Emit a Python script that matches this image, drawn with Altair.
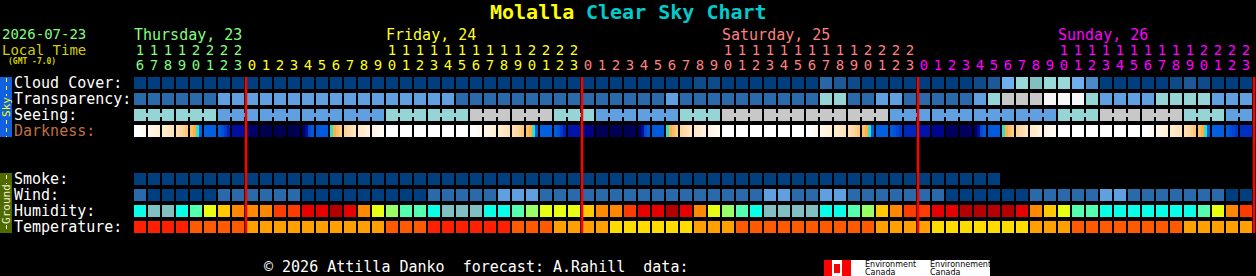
import altair as alt
import pandas as pd

# ---------------- values ----------------
title_place = "Molalla"
title_rest = "Clear Sky Chart"
date_text = "2026-07-23"
local_time_text = "Local Time"
gmt_text = "(GMT -7.0)"
footer_text = "© 2026 Attilla Danko\u00a0\u00a0forecast: A.Rahill\u00a0\u00a0data:"

day_labels = ["Thursday, 23", "Friday, 24", "Saturday, 25", "Sunday, 26"]
day_label_col = [0, 18, 42, 66]
hours = [16, 17, 18, 19, 20, 21, 22, 23] + list(range(24)) * 3

row_labels = ["Cloud Cover:", "Transparency:", "Seeing:", "Darkness:",
              "Smoke:", "Wind:", "Humidity:", "Temperature:"]

# cloud cover, percent
cloud_cover = [
    0, 0, 0, 0, 0, 0, 0, 0,
    0, 0, 0, 0, 0, 0, 0, 0, 0, 0, 0, 0, 0, 0, 0, 0, 0, 0, 0, 0, 0, 0, 0, 0,
    0, 0, 0, 0, 0, 0, 0, 0, 10, 10, 0, 0, 0, 0, 0, 0, 0, 30, 20, 10, 0, 0, 0, 0,
    0, 0, 0, 0, 10, 20, 60, 70, 80, 70, 70, 60, 40, 0, 0, 0, 0, 0, 10, 20, 10, 0, 0, 0,
]
# transparency: 5 above average, 4 average, 3 below average, 2 poor, 0 too cloudy
transparency = [
    5, 5, 5, 5, 5, 5, 4, 4,
    4, 4, 4, 4, 4, 4, 4, 4, 4, 4, 4, 4, 4, 4, 4, 5, 5, 5, 5, 5, 5, 5, 5, 5,
    5, 5, 5, 5, 5, 5, 4, 5, 5, 5, 5, 5, 5, 5, 5, 5, 5, 3, 3, 5, 5, 4, 4, 5,
    5, 5, 5, 5, 4, 3, 2, 2, 2, 0, 0, 0, 3, 4, 4, 4, 4, 3, 3, 3, 3, 4, 4, 4,
]
# seeing per 3-hour block: 3 average, 2 poor, 1 bad
seeing_blocks = [2, 2, 3, 3, 3, 3, 2, 2, 1, 1, 2, 3, 3, 2, 1, 1, 1, 1, 3, 3, 3, 3, 2, 1, 1, 2, 3]
# darkness (limiting magnitude, -4 = daylight), four quarter-hours per hour
darkness = [
    [-4.0, -4.0, -3.7, -3.4], [-3.3, -3.1, -2.9, -2.7], [-2.5, -2.3, -2.1, -1.9], [-1.7, -1.4, -1.1, -0.8],
    [-0.6, -0.3, 0.4, 1.0], [1.0, 1.0, 1.0, 1.0], [1.1, 1.6, 2.2, 2.8], [3.4, 3.4, 3.4, 3.4],
    [4.8, 4.8, 4.8, 4.8], [5.5, 5.5, 5.5, 5.5], [5.5, 5.5, 5.5, 5.5], [5.5, 5.5, 5.5, 5.5],
    [5.0, 3.5, 1.8, 1.2], [1.2, 1.2, 1.2, 1.2], [0.4, -0.3, -0.6, -0.9], [-1.2, -1.5, -1.8, -2.1],
    [-2.3, -2.5, -2.7, -2.9], [-3.1, -3.3, -3.5, -3.7], [-4, -4, -4, -4], [-4, -4, -4, -4],
    [-4, -4, -4, -4], [-4, -4, -4, -4], [-4, -4, -4, -4], [-4, -4, -4, -4],
    [-4.0, -4.0, -3.7, -3.4], [-3.3, -3.1, -2.9, -2.7], [-2.5, -2.3, -2.1, -1.9], [-1.7, -1.4, -1.1, -0.8],
    [-0.6, -0.3, 0.4, 1.0], [1.0, 1.0, 1.0, 1.0], [1.1, 1.6, 2.2, 2.8], [3.2, 3.2, 3.2, 3.2],
    [4.0, 4.0, 4.0, 4.0], [5.3, 5.3, 5.3, 5.3], [5.3, 5.3, 5.3, 5.3], [5.3, 5.3, 5.3, 5.3],
    [5.0, 3.5, 1.8, 1.2], [1.2, 1.2, 1.2, 1.2], [0.4, -0.3, -0.6, -0.9], [-1.2, -1.5, -1.8, -2.1],
    [-2.3, -2.5, -2.7, -2.9], [-3.1, -3.3, -3.5, -3.7], [-4, -4, -4, -4], [-4, -4, -4, -4],
    [-4, -4, -4, -4], [-4, -4, -4, -4], [-4, -4, -4, -4], [-4, -4, -4, -4],
    [-4.0, -4.0, -3.7, -3.4], [-3.3, -3.1, -2.9, -2.7], [-2.5, -2.3, -2.1, -1.9], [-1.7, -1.4, -1.1, -0.8],
    [-0.6, -0.3, 0.4, 1.0], [1.0, 1.0, 1.0, 1.0], [1.2, 1.5, 1.9, 2.3], [2.7, 2.7, 2.7, 2.7],
    [3.2, 3.2, 3.2, 3.2], [3.8, 3.8, 3.8, 3.8], [5.0, 5.0, 5.0, 5.0], [5.0, 5.0, 5.0, 5.0],
    [5.0, 3.5, 1.8, 1.2], [1.2, 1.2, 1.2, 1.2], [0.4, -0.3, -0.6, -0.9], [-1.2, -1.5, -1.8, -2.1],
    [-2.3, -2.5, -2.7, -2.9], [-3.1, -3.3, -3.5, -3.7], [-4, -4, -4, -4], [-4, -4, -4, -4],
    [-4, -4, -4, -4], [-4, -4, -4, -4], [-4, -4, -4, -4], [-4, -4, -4, -4],
    [-4.0, -4.0, -3.7, -3.4], [-3.3, -3.1, -2.9, -2.7], [-2.5, -2.3, -2.1, -1.9], [-1.7, -1.4, -1.1, -0.8],
    [-0.6, -0.3, 0.4, 1.0], [1.0, 1.0, 1.0, 1.0], [1.2, 1.6, 2.0, 2.3], [2.5, 2.5, 2.5, 2.5],
]
# smoke: 0 = no smoke (forecast ends after 62 hours)
smoke = [
    0, 0, 0, 0, 0, 0, 0, 0,
    0, 0, 0, 0, 0, 0, 0, 0, 0, 0, 0, 0, 0, 0, 0, 0, 0, 0, 0, 0, 0, 0, 0, 0,
    0, 0, 0, 0, 0, 0, 0, 0, 0, 0, 0, 0, 0, 0, 0, 0, 0, 0, 0, 0, 0, 0, 0, 0,
    0, 0, 0, 0, 0, 0,
]
# wind: 0 = 0-5 mph, 1 = 6-11 mph, 2 = 12-16 mph
wind = [
    1, 0, 0, 0, 0, 0, 1, 1,
    1, 1, 1, 1, 0, 0, 0, 0, 0, 0, 0, 0, 0, 1, 1, 1, 1, 1, 2, 2, 2, 1, 1, 1,
    1, 1, 1, 1, 1, 1, 1, 1, 1, 1, 1, 1, 1, 2, 2, 1, 1, 2, 2, 1, 1, 1, 1, 1,
    1, 1, 0, 0, 0, 0, 0, 0, 1, 1, 1, 1, 1, 2, 2, 1, 1, 1, 1, 1, 1, 1, 0, 0,
]
# relative humidity, percent
humidity = [
    47, 42, 42, 47, 52, 62, 67, 72,
    72, 72, 77, 77, 82, 82, 87, 82, 72, 62, 57, 52, 52, 47, 42, 42, 42, 47, 47, 52, 57, 62, 62, 62,
    67, 72, 72, 77, 82, 82, 87, 82, 72, 62, 57, 52, 47, 42, 42, 42, 42, 47, 47, 52, 57, 67, 72, 77,
    77, 82, 82, 87, 87, 87, 87, 82, 72, 67, 62, 52, 52, 47, 47, 47, 47, 47, 47, 47, 52, 62, 72, 77,
]
# temperature, deg F
temperature = [
    82, 82, 82, 82, 75, 75, 75, 75,
    68, 68, 68, 68, 68, 68, 68, 68, 68, 68, 75, 75, 75, 82, 82, 82, 82, 82, 82, 75, 75, 75, 68, 68,
    68, 68, 61, 61, 61, 61, 61, 61, 68, 68, 68, 75, 75, 75, 75, 75, 75, 75, 75, 75, 75, 68, 68, 68,
    68, 61, 61, 61, 61, 61, 61, 61, 68, 68, 68, 75, 75, 75, 75, 75, 75, 75, 75, 68, 68, 68, 68, 68,
]

# ---------------- styling ----------------
MONO = "DejaVu Sans Mono"
N = len(hours)
CELL = 12 / 14          # cell width in column units (12 px of a 14 px pitch)
CELL_H = 0.75           # cell height in row units (12 px of a 16 px pitch)
slot = {"Cloud Cover:": 0, "Transparency:": 1, "Seeing:": 2, "Darkness:": 3,
        "Smoke:": 6, "Wind:": 7, "Humidity:": 8, "Temperature:": 9}
label_colors = {"Darkness:": "#c07040"}
day_colors = ["#80ff80", "#ffff20", "#ff8080", "#ff00ff"]

palettes = {
    "cloud": {0: "#003f7f", 10: "#0d4b8b", 20: "#1d5898", 30: "#2a65a5", 40: "#4a8ac8",
              60: "#6fb0f0", 70: "#99d9d9", 80: "#80c0c0"},
    "transp": {0: "#f6f6f6", 2: "#c8c8c8", 3: "#95d5d5", 4: "#60a0e0", 5: "#2a6aaa"},
    "seeing": {1: "#c8c8c8", 2: "#95d5d5", 3: "#60a0e0"},
    "smoke": {0: "#013f7e"},
    "wind": {0: "#003f7f", 1: "#2a6aaa", 2: "#60a0e0"},
    "humid": {42: "#80c0c0", 47: "#08ffe8", 52: "#55ffb0", 57: "#99ff66", 62: "#e8ff14",
              67: "#ffc800", 72: "#ff8800", 77: "#ff3c00", 82: "#e60000", 87: "#b40000"},
    "temp": {61: "#ffdc00", 68: "#ffa000", 75: "#ff5a00", 82: "#ff2000"},
}
dark_domain = [-4, -3, -2, -1, -0.3, 0.4, 1.0, 2.0, 3.0, 4.0, 5.0, 5.5]
dark_range = ["#ffffff", "#fff3e0", "#ffe4bc", "#ffd090", "#ffb044", "#30e0c8",
              "#0060e0", "#0044d0", "#0018b4", "#000088", "#000060", "#000050"]

XS = alt.Scale(domain=[-134 / 14, 1122 / 14], range=[0, 1256], nice=False, zero=False)
YS = alt.Scale(domain=[-77 / 16, 199 / 16], reverse=True, nice=False, zero=False)


def X(f):
    return alt.X(f, type="quantitative", scale=XS, axis=None)


def X2(f):
    return alt.X2(f)


def Y(f):
    return alt.Y(f, type="quantitative", scale=YS, axis=None)


# ---------------- cell table ----------------
recs = []


def add_row(row, values, pal):
    for i, v in enumerate(values):
        recs.append(dict(x=i, x2=i + CELL, y=slot[row], y2=slot[row] + CELL_H, key=f"{pal}:{v}"))


add_row("Cloud Cover:", cloud_cover, "cloud")
add_row("Transparency:", transparency, "transp")
add_row("Smoke:", smoke, "smoke")
add_row("Wind:", wind, "wind")
add_row("Humidity:", humidity, "humid")
add_row("Temperature:", temperature, "temp")
s = slot["Seeing:"]
for b, v in enumerate(seeing_blocks):
    first, last = 3 * b, min(3 * b + 3, N) - 1
    for i in range(first, last + 1):
        recs.append(dict(x=i, x2=i + CELL, y=s, y2=s + CELL_H, key=f"seeing:{v}"))
    recs.append(dict(x=first, x2=last + CELL, y=s + 0.25, y2=s + 0.5, key=f"seeing:{v}"))
cells = pd.DataFrame(recs)

keys, colors = [], []
for pal, mp in palettes.items():
    for k, c in mp.items():
        keys.append(f"{pal}:{k}")
        colors.append(c)

cell_layer = alt.Chart(cells).mark_rect().encode(
    x=X("x"), x2=X2("x2"), y=Y("y"), y2=alt.Y2("y2"),
    color=alt.Color("key:N", scale=alt.Scale(domain=keys, range=colors), legend=None),
)

drecs = []
d = slot["Darkness:"]
for i, qs in enumerate(darkness):
    for q, m in enumerate(qs):
        drecs.append(dict(x=i + q * CELL / 4, x2=i + (q + 1) * CELL / 4, y=d, y2=d + CELL_H, mag=m))
dark_layer = alt.Chart(pd.DataFrame(drecs)).mark_rect().encode(
    x=X("x"), x2=X2("x2"), y=Y("y"), y2=alt.Y2("y2"),
    color=alt.Color("mag:Q", scale=alt.Scale(domain=dark_domain, range=dark_range, interpolate="rgb"),
                    legend=None),
)

# day boundaries (midnight) + end of forecast
bounds = [i for i, h in enumerate(hours) if h == 0 and i > 0] + [N]
rule_layer = alt.Chart(pd.DataFrame({"x": bounds, "y": [0] * len(bounds), "y2": [9.75] * len(bounds)})).mark_rule(
    color="#ff0000", strokeWidth=2.5).encode(x=X("x"), y=Y("y"), y2=alt.Y2("y2"))

# ---------------- texts ----------------
day_idx, dd = [], 0
for i, h in enumerate(hours):
    if i > 0 and h == 0:
        dd += 1
    day_idx.append(dd)
hdr = pd.DataFrame({
    "x": [i + CELL / 2 for i in range(N)],
    "units": [str(h % 10) for h in hours],
    "tens": [str(h // 10) if h >= 10 else "" for h in hours],
    "clr": [day_colors[k] for k in day_idx],
})
units_layer = alt.Chart(hdr).mark_text(font=MONO, fontSize=14, align="center", baseline="alphabetic").encode(
    x=X("x"), y=alt.value(70), text="units:N", color=alt.Color("clr:N", scale=None))
tens_layer = alt.Chart(hdr).mark_text(font=MONO, fontSize=14, align="center", baseline="alphabetic").encode(
    x=X("x"), y=alt.value(55), text="tens:N", color=alt.Color("clr:N", scale=None))
days_df = pd.DataFrame({"x": day_label_col, "text": day_labels, "clr": day_colors})
days_layer = alt.Chart(days_df).mark_text(font=MONO, fontSize=15, align="left", baseline="alphabetic").encode(
    x=X("x"), y=alt.value(40), text="text:N", color=alt.Color("clr:N", scale=None))

lab_df = pd.DataFrame({"label": row_labels,
                       "y": [slot[r] + 0.66 for r in row_labels],
                       "clr": [label_colors.get(r, "#ffffff") for r in row_labels]})
labels_layer = alt.Chart(lab_df).mark_text(font=MONO, fontSize=15, align="left", baseline="alphabetic").encode(
    x=alt.value(14), y=Y("y"), text="label:N", color=alt.Color("clr:N", scale=None))


def txt(text, x, y, color, size=15, weight="normal", align="left", font=MONO, angle=0):
    return alt.Chart(pd.DataFrame({"t": [text]})).mark_text(
        font=font, fontSize=size, fontWeight=weight, align=align, baseline="alphabetic",
        color=color, angle=angle).encode(x=alt.value(x), y=alt.value(y), text="t:N")


def box(x, x2, y, y2, color):
    return alt.Chart(pd.DataFrame({"a": [0]})).mark_rect(color=color).encode(
        x=alt.value(x), x2=alt.value(x2), y=alt.value(y), y2=alt.value(y2))


def vdash(x, y, y2, color):
    return alt.Chart(pd.DataFrame({"a": [0]})).mark_rule(color=color, strokeWidth=1, strokeDash=[4, 4]).encode(
        x=alt.value(x), y=alt.value(y), y2=alt.value(y2))


title_layers = [
    txt(title_place, 490, 19, "#ffff00", size=20, weight="bold"),
    txt(title_rest, 586, 19, "#00cccc", size=20, weight="bold"),
    txt(date_text, 2, 39, "#80ff80", size=14),
    txt(local_time_text, 2, 55, "#d0d000", size=14),
    txt(gmt_text, 8, 64, "#d0d000", size=8, weight="bold"),
    txt(footer_text, 264, 272, "#ffffff"),
]

side_layers = [
    box(0, 12, 77, 137, "#1060e0"),
    vdash(6.5, 78, 96, "#ffff00"),
    vdash(6.5, 120, 137, "#ffff00"),
    txt("Sky", 10, 107, "#ffff00", size=11, align="center", angle=270),
    box(0, 12, 173, 233, "#4e6a00"),
    vdash(6.5, 175, 184, "#ffffff"),
    vdash(6.5, 225, 233, "#ffffff"),
    txt("Ground", 10, 204, "#f0f0d0", size=11, align="center", angle=270),
]

logo_layers = [
    box(824, 832, 260, 276, "#ff0000"),
    box(832, 842, 260, 276, "#ffffff"),
    box(842, 851, 260, 276, "#ff0000"),
    box(834, 840, 264, 273, "#ff0000"),
    box(851, 990, 260, 276, "#ffffff"),
    txt("Environment", 865, 267, "#000000", size=8, font="DejaVu Sans"),
    txt("Canada", 865, 275, "#000000", size=8, font="DejaVu Sans"),
    txt("Environnement", 930, 267, "#000000", size=8, font="DejaVu Sans"),
    txt("Canada", 930, 275, "#000000", size=8, font="DejaVu Sans"),
]

chart = alt.layer(
    cell_layer, dark_layer, rule_layer, units_layer, tens_layer, days_layer, labels_layer,
    *title_layers, *side_layers, *logo_layers,
).resolve_scale(color="independent").properties(
    width=1256, height=276, padding=0, background="#000000",
    autosize=alt.AutoSizeParams(type="none"),
).configure_view(stroke=None)

chart.save("out.html", embed_options={"renderer": "svg", "actions": False})
